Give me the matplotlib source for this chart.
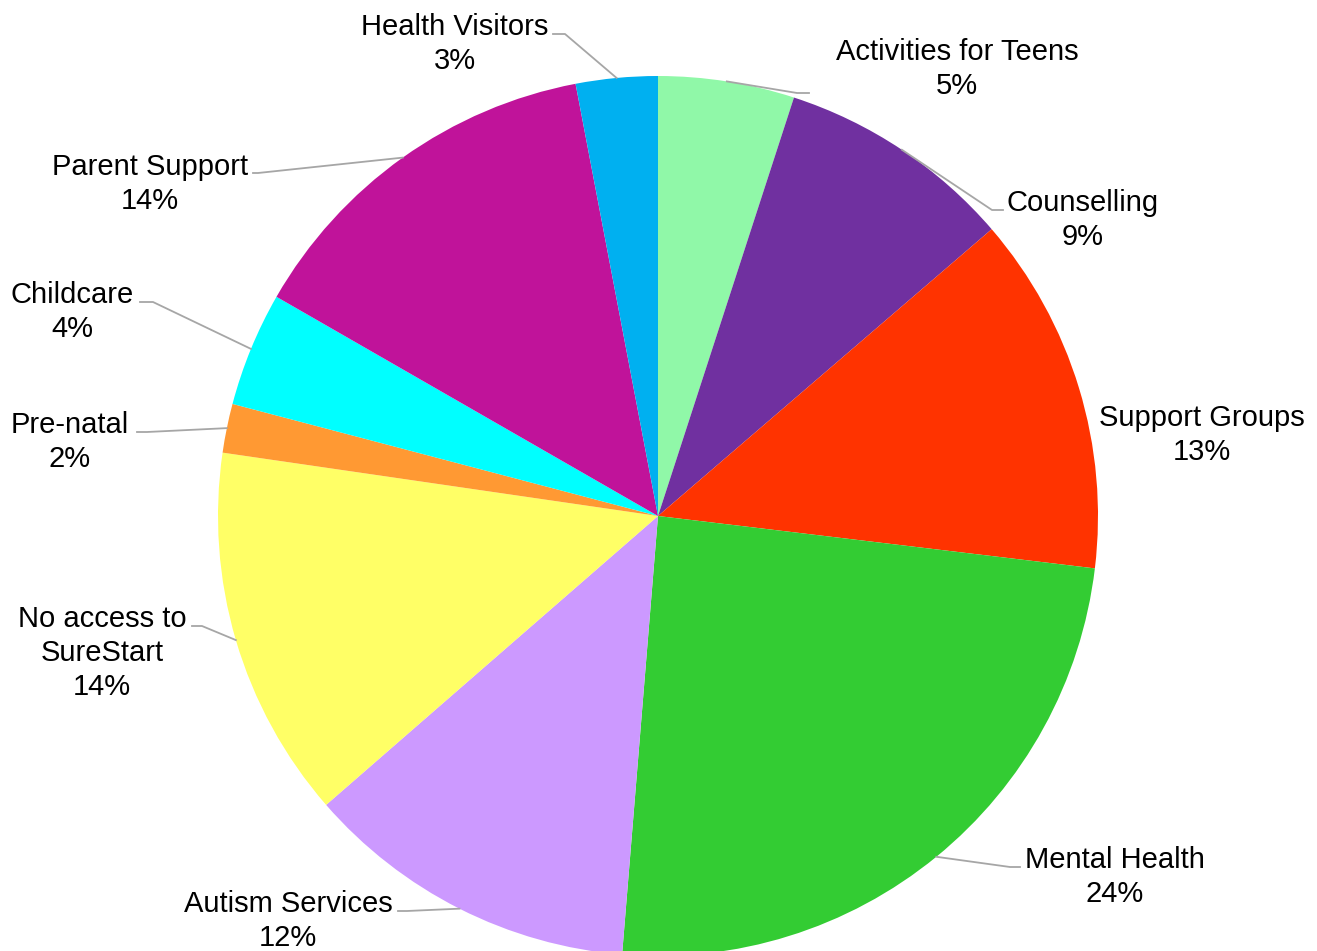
import matplotlib.pyplot as plt
import numpy as np

plt.rcParams['font.family'] = ['Liberation Sans', 'DejaVu Sans']

# share of responses per service (percent), clockwise from 12 o'clock
services = ['Activities for Teens', 'Counselling', 'Support Groups', 'Mental Health',
            'Autism Services', 'No access to\nSureStart', 'Pre-natal', 'Childcare',
            'Parent Support', 'Health Visitors']
shares = [5.0, 8.7, 13.2, 24.4, 12.3, 13.7, 1.8, 4.2, 13.7, 3.0]
colors = ['#90F8A8', '#7030A0', '#FF3300', '#33CC33', '#CC99FF',
          '#FFFF66', '#FF9933', '#00FFFF', '#C0139A', '#00B0F0']

W, H = 1317, 951
CX, CY, R = 658, 516, 440   # pie centre / radius in pixels (y from top)

# label centres and the end of each leader line (pixels, y from top)
label_pos = [(957, 69), (1083, 220), (1202, 435), (1115, 877), (288, 921),
             (102, 653), (70, 442), (72, 312), (150, 184), (455, 44)]
leader_end = [(797, 93, 809), (992, 210, 1003), None, (1010, 867, 1020),
              (407, 911, 398), (202, 626, 192), (147, 432, 137),
              (153, 302, 140), (258, 173, 253), (565, 34, 553)]

fig = plt.figure(figsize=(W / 100, H / 100), dpi=100)
ax = fig.add_axes([0, 0, 1, 1])

ax.pie(shares, colors=colors, startangle=90, counterclock=False,
       center=(CX, H - CY), radius=R, wedgeprops=dict(linewidth=0))
ax.set_xlim(0, W)
ax.set_ylim(0, H)
ax.set_aspect('equal')
ax.axis('off')

total = sum(shares)
cum = np.cumsum([0] + shares)
for i, name in enumerate(services):
    pct = shares[i] / total * 100
    tx, ty = label_pos[i]
    ax.text(tx, H - ty, f'{name}\n{pct:.0f}%', ha='center', va='center',
            fontsize=21, color='#000000', linespacing=1.29)
    if leader_end[i] is None:
        continue
    mid = np.deg2rad((cum[i] + shares[i] / 2) / total * 360)
    ax_x = CX + R * np.sin(mid)
    ax_y = CY - R * np.cos(mid)
    ex, ey, fx = leader_end[i]
    ax.plot([ax_x, ex, fx], [H - ax_y, H - ey, H - ey], color='#A6A6A6', lw=1.3)

fig.savefig('out.png', dpi=100)
